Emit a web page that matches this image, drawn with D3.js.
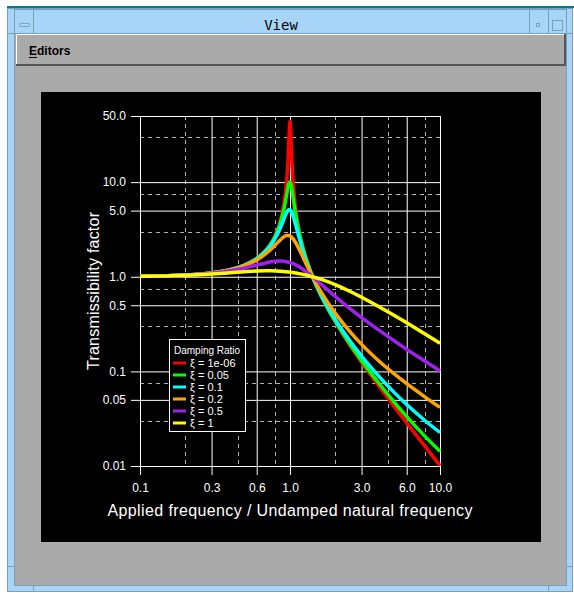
<!DOCTYPE html>
<html>
<head>
<meta charset="utf-8">
<script src="https://cdn.jsdelivr.net/npm/d3@7"></script>
<style>
  body { margin: 0; background: #fff; }
  text { font-family: "Liberation Sans", Arial, sans-serif; }
  .axis .domain { display: none; }
  .axis line { stroke: #fff; }
  .axis text { fill: #fff; font-size: 12px; font-family: "Liberation Sans", Arial, sans-serif; }
</style>
</head>
<body>
<div id="chart"></div>
<script>

// frequency ratio samples (applied / undamped natural)
var freq = [0.1, 0.15, 0.2, 0.3, 0.4, 0.5, 0.6, 0.7, 0.75, 0.8, 0.85, 0.9, 0.93, 0.95, 0.97, 0.98, 0.99, 1.0, 1.01, 1.02,
            1.03, 1.05, 1.07, 1.1, 1.15, 1.2, 1.3, 1.414, 1.6, 1.8, 2.0, 2.5, 3.0, 4.0, 5.0, 6.0, 8.0, 10.0];

// transmissibility, one list per damping ratio
var tZeta1e6 = [1.010, 1.023, 1.042, 1.099, 1.190, 1.333, 1.563, 1.961, 2.286, 2.778, 3.604, 5.263, 7.402, 10.26, 16.92, 25.25, 36.0, 44.0, 36.0, 24.75,
                16.42, 9.756, 6.901, 4.762, 3.101, 2.273, 1.449, 1.0, 0.641, 0.446, 0.333, 0.190, 0.125, 0.0667, 0.0417, 0.0286, 0.0159, 0.0101];
var tZeta005 = [1.010, 1.023, 1.042, 1.099, 1.190, 1.332, 1.559, 1.947, 2.259, 2.720, 3.458, 4.776, 6.123, 7.379, 8.845, 9.506, 9.951, 10.05, 9.760, 9.162,
                8.401, 6.853, 5.583, 4.244, 2.940, 2.208, 1.436, 1.0, 0.646, 0.452, 0.339, 0.196, 0.130, 0.0718, 0.0466, 0.0333, 0.0203, 0.0143];
var tZeta01  = [1.010, 1.023, 1.042, 1.099, 1.189, 1.328, 1.547, 1.909, 2.186, 2.571, 3.117, 3.882, 4.425, 4.766, 5.023, 5.096, 5.123, 5.099, 5.026, 4.908,
                4.753, 4.373, 3.957, 3.367, 2.591, 2.052, 1.401, 1.0, 0.659, 0.469, 0.356, 0.212, 0.145, 0.0853, 0.0589, 0.0446, 0.0299, 0.0226];
var tZeta02  = [1.010, 1.023, 1.041, 1.097, 1.184, 1.314, 1.505, 1.785, 1.968, 2.180, 2.407, 2.611, 2.696, 2.727, 2.733, 2.726, 2.713, 2.693, 2.666, 2.634,
                2.597, 2.509, 2.407, 2.241, 1.959, 1.704, 1.305, 1.0, 0.704, 0.524, 0.413, 0.265, 0.193, 0.125, 0.0929, 0.0741, 0.0532, 0.0416];
var tZeta05  = [1.010, 1.023, 1.040, 1.090, 1.158, 1.240, 1.329, 1.409, 1.440, 1.460, 1.468, 1.463, 1.453, 1.444, 1.434, 1.428, 1.421, 1.414, 1.407, 1.399,
                1.391, 1.374, 1.356, 1.328, 1.276, 1.222, 1.114, 1.0, 0.844, 0.717, 0.620, 0.463, 0.370, 0.266, 0.208, 0.171, 0.127, 0.101];
var tZeta1   = [1.010, 1.021, 1.036, 1.070, 1.104, 1.131, 1.149, 1.155, 1.154, 1.151, 1.145, 1.138, 1.132, 1.129, 1.125, 1.122, 1.120, 1.118, 1.116, 1.114,
                1.111, 1.106, 1.101, 1.094, 1.080, 1.066, 1.036, 1.0, 0.942, 0.881, 0.825, 0.703, 0.608, 0.474, 0.387, 0.326, 0.247, 0.198];

var zetaLabels = ["1e-06", "0.05", "0.1", "0.2", "0.5", "1"];
var seriesValues = [tZeta1e6, tZeta005, tZeta01, tZeta02, tZeta05, tZeta1];
var seriesColors = ["#ff0000", "#00ff00", "#00ffff", "#ffa500", "#a020f0", "#ffff00"];

var xTicks = [0.1, 0.3, 0.6, 1, 3, 6, 10];
var xTickLabels = ["0.1", "0.3", "0.6", "1.0", "3.0", "6.0", "10.0"];
var xMinor = [0.2, 0.45, 0.8, 2, 4.5, 8];
var yTicks = [0.01, 0.05, 0.1, 0.5, 1, 5, 10, 50];
var yTickLabels = ["0.01", "0.05", "0.1", "0.5", "1.0", "5.0", "10.0", "50.0"];
var yMinor = [0.03, 0.075, 0.3, 0.75, 3, 7.5, 30];

var frameBlue = '#a8d4f8'
var frameLine = '#78a0b8'
var panelGray = '#aaaaaa'

var svg = d3.select("#chart").append("svg")
  .attr("width", 574)
  .attr("height", 599);

// --- window chrome ---
svg.append("rect").attr("x", 7).attr("y", 6).attr("width", 567).attr("height", 2).style("fill", "#008080");
svg.append("rect").attr("x", 7.5).attr("y", 8.5).attr("width", 565).attr("height", 583)
  .style("fill", frameBlue).style("stroke", frameLine);
svg.append("rect").attr("x", 14.5).attr("y", 9.5).attr("width", 552).attr("height", 24)
  .style("fill", frameBlue).style("stroke", frameLine);
[33.5, 529.5, 548.5].forEach(function(xx) {
  svg.append("line").attr("x1", xx).attr("x2", xx).attr("y1", 8).attr("y2", 33)
    .style("stroke", frameLine).attr("shape-rendering", "crispEdges");
});
// corner marks
[[7, 14, 33.5], [567, 573, 33.5], [7, 14, 566.5], [567, 573, 566.5]].forEach(function(m) {
  svg.append("line").attr("x1", m[0]).attr("x2", m[1]).attr("y1", m[2]).attr("y2", m[2]).style("stroke", frameLine);
});
[33.5, 548.5].forEach(function(xx) {
  svg.append("line").attr("x1", xx).attr("x2", xx).attr("y1", 585).attr("y2", 592).style("stroke", frameLine);
});
// title bar buttons
svg.append("rect").attr("x", 19.5).attr("y", 23.5).attr("width", 10).attr("height", 3).attr("rx", 1)
  .style("fill", "none").style("stroke", frameLine);
svg.append("rect").attr("x", 536.5).attr("y", 23.5).attr("width", 3).attr("height", 3)
  .style("fill", "none").style("stroke", frameLine);
svg.append("rect").attr("x", 552.5).attr("y", 20.5).attr("width", 10).attr("height", 10)
  .style("fill", "none").style("stroke", frameLine);
svg.append("text").attr("x", 281).attr("y", 30).attr("text-anchor", "middle")
  .style("font-family", "'DejaVu Sans Mono', monospace").style("font-size", "14px")
  .text("View");

// content panel and menubar
svg.append("rect").attr("x", 14.5).attr("y", 33.5).attr("width", 552).attr("height", 552)
  .style("fill", panelGray).style("stroke", frameLine);
svg.append("rect").attr("x", 16).attr("y", 34).attr("width", 550).attr("height", 32).style("fill", "#555");
svg.append("rect").attr("x", 16).attr("y", 34).attr("width", 548).attr("height", 30).style("fill", "#fff");
svg.append("rect").attr("x", 17).attr("y", 35).attr("width", 547).attr("height", 29).style("fill", panelGray);
svg.append("text").attr("x", 29).attr("y", 55)
  .style("font-size", "12px").style("font-weight", "bold").text("Editors");
svg.append("rect").attr("x", 29).attr("y", 57).attr("width", 8).attr("height", 1).style("fill", "#000");

// black plotting canvas
svg.append("rect").attr("x", 41).attr("y", 92).attr("width", 500).attr("height", 450).style("fill", "#000");

// --- chart ---
var x = d3.scaleLog().domain([0.1, 10]).range([140, 440]);
var y = d3.scaleLog().domain([0.01, 50]).range([466, 116]);

var plot = svg.append("g");

// dashed minor grid
plot.selectAll(".xminor").data(xMinor).enter().append("line")
  .attr("x1", function(d) { return Math.round(x(d)) + 0.5; })
  .attr("x2", function(d) { return Math.round(x(d)) + 0.5; })
  .attr("y1", y(50)).attr("y2", y(0.01))
  .style("stroke", "#b0b0b0").style("stroke-dasharray", "4,4");
plot.selectAll(".yminor").data(yMinor).enter().append("line")
  .attr("y1", function(d) { return Math.round(y(d)) + 0.5; })
  .attr("y2", function(d) { return Math.round(y(d)) + 0.5; })
  .attr("x1", x(0.1)).attr("x2", x(10))
  .style("stroke", "#b0b0b0").style("stroke-dasharray", "4,4");

var xAxis = d3.axisBottom(x)
  .tickValues(xTicks)
  .tickFormat(function(d, i) { return xTickLabels[i]; })
  .tickSizeInner(-(y(0.01) + 9 - y(50)))
  .tickSizeOuter(0)
  .tickPadding(8);

var yAxis = d3.axisLeft(y)
  .tickValues(yTicks)
  .tickFormat(function(d, i) { return yTickLabels[i]; })
  .tickSizeInner(-(x(10) - x(0.1) + 9))
  .tickSizeOuter(0)
  .tickPadding(5);

plot.append("g")
  .attr("class", "x axis")
  .attr("transform", "translate(0," + (y(0.01) + 9) + ")")
  .call(xAxis);

plot.append("g")
  .attr("class", "y axis")
  .attr("transform", "translate(" + (x(0.1) - 9) + ",0)")
  .call(yAxis);

var line = d3.line()
  .x(function(d) { return x(d[0]); })
  .y(function(d) { return y(d[1]); })
  .curve(d3.curveMonotoneX);

seriesValues.forEach(function(vals, i) {
  plot.append("path")
    .datum(freq.map(function(f, j) { return [f, vals[j]]; }))
    .attr("d", line)
    .style("fill", "none")
    .style("stroke", seriesColors[i])
    .style("stroke-width", 3.5)
    .style("stroke-linejoin", "round");
});

// axis titles
plot.append("text")
  .attr("x", 290).attr("y", 516)
  .attr("text-anchor", "middle")
  .attr("textLength", 365).attr("lengthAdjust", "spacing")
  .style("fill", "#fff").style("font-size", "16px")
  .text("Applied frequency / Undamped natural frequency");

plot.append("text")
  .attr("transform", "translate(99,291) rotate(-90)")
  .attr("text-anchor", "middle")
  .attr("textLength", 158).attr("lengthAdjust", "spacing")
  .style("fill", "#fff").style("font-size", "16px")
  .text("Transmissibility factor");

// legend
var legend = plot.append("g").attr("transform", "translate(169,339)");
legend.append("rect")
  .attr("x", 0.5).attr("y", 0.5).attr("width", 76).attr("height", 92)
  .style("fill", "#000").style("stroke", "#fff");
legend.append("text")
  .attr("x", 5).attr("y", 15)
  .style("fill", "#fff").style("font-size", "10px")
  .text("Damping Ratio");

var rows = legend.selectAll(".row")
  .data(zetaLabels)
  .enter().append("g")
  .attr("class", "row")
  .attr("transform", function(d, i) { return "translate(0," + (24 + i * 12) + ")"; });

rows.append("rect")
  .attr("x", 4).attr("y", -1.5).attr("width", 13).attr("height", 3)
  .style("fill", function(d, i) { return seriesColors[i]; });

rows.append("text")
  .attr("x", 21).attr("y", 4)
  .style("fill", "#fff").style("font-size", "11px")
  .text(function(d) { return "\u03be = " + d; });

</script>
</body>
</html>
